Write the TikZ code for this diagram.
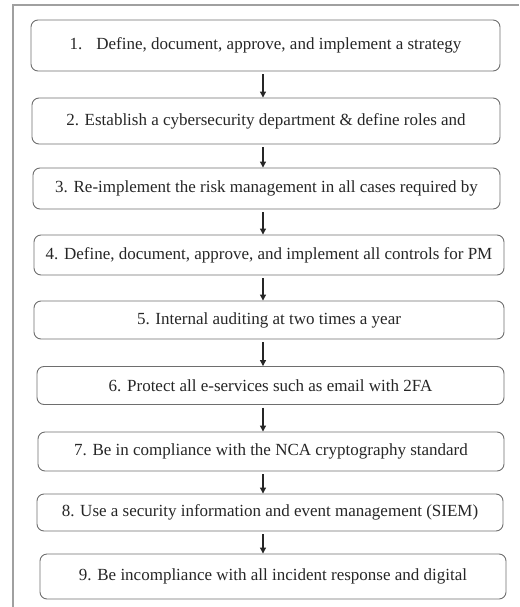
\documentclass[tikz,border=0pt]{standalone}
\usepackage{fontspec}
\setmainfont{Liberation Serif}
\usetikzlibrary{arrows.meta}

\definecolor{boxline}{HTML}{6E6E6E}
\definecolor{frameline}{HTML}{A0A0A0}
\definecolor{txt}{HTML}{262626}

\begin{document}
\begin{tikzpicture}[x=1pt,y=-1pt,>={Triangle[length=6pt,width=6pt]},
  font=\fontsize{17}{20}\selectfont,
  stage/.style={draw=boxline,line width=0.9pt,rounded corners=7pt,inner sep=0pt,text=txt,align=center},
  arr/.style={->,line width=1.1pt,draw=txt,fill=txt,shorten <=3pt}]
\useasboundingbox (0,0) rectangle (519,607);
\draw[frameline,line width=1.2pt] (13,607) -- (13,5) -- (519,5);
\coordinate (ax) at (263,0);
\node[stage,minimum width=469pt,minimum height=51pt] (b1) at (265.5,45.5) {1.\hspace{14pt}Define, document, approve, and implement a strategy};
\node[stage,minimum width=468pt,minimum height=46pt] (b2) at (266,121) {2. Establish a cybersecurity department \& define roles and};
\node[stage,minimum width=467pt,minimum height=41pt] (b3) at (266.5,188.5) {3. Re-implement the risk management in all cases required by};
\node[stage,minimum width=470pt,minimum height=40pt] (b4) at (269,255) {4. Define, document, approve, and implement all controls for PM};
\node[stage,minimum width=470pt,minimum height=38pt] (b5) at (269,320) {5. Internal auditing at two times a year};
\node[stage,minimum width=467pt,minimum height=38pt] (b6) at (270.5,385.5) {6. Protect all e-services such as email with 2FA};
\node[stage,minimum width=466pt,minimum height=39pt] (b7) at (271,451.5) {7. Be in compliance with the NCA cryptography standard};
\node[stage,minimum width=466pt,minimum height=37pt] (b8) at (270,512.5) {8. Use a security information and event management (SIEM)};
\node[stage,minimum width=466pt,minimum height=45pt] (b9) at (273,576.5) {9. Be incompliance with all incident response and digital};
\draw[arr] (b1.south -| ax) -- (b2.north -| ax);
\draw[arr] (b2.south -| ax) -- (b3.north -| ax);
\draw[arr] (b3.south -| ax) -- (b4.north -| ax);
\draw[arr] (b4.south -| ax) -- (b5.north -| ax);
\draw[arr] (b5.south -| ax) -- (b6.north -| ax);
\draw[arr] (b6.south -| ax) -- (b7.north -| ax);
\draw[arr] (b7.south -| ax) -- (b8.north -| ax);
\draw[arr] (b8.south -| ax) -- (b9.north -| ax);
\end{tikzpicture}
\end{document}
